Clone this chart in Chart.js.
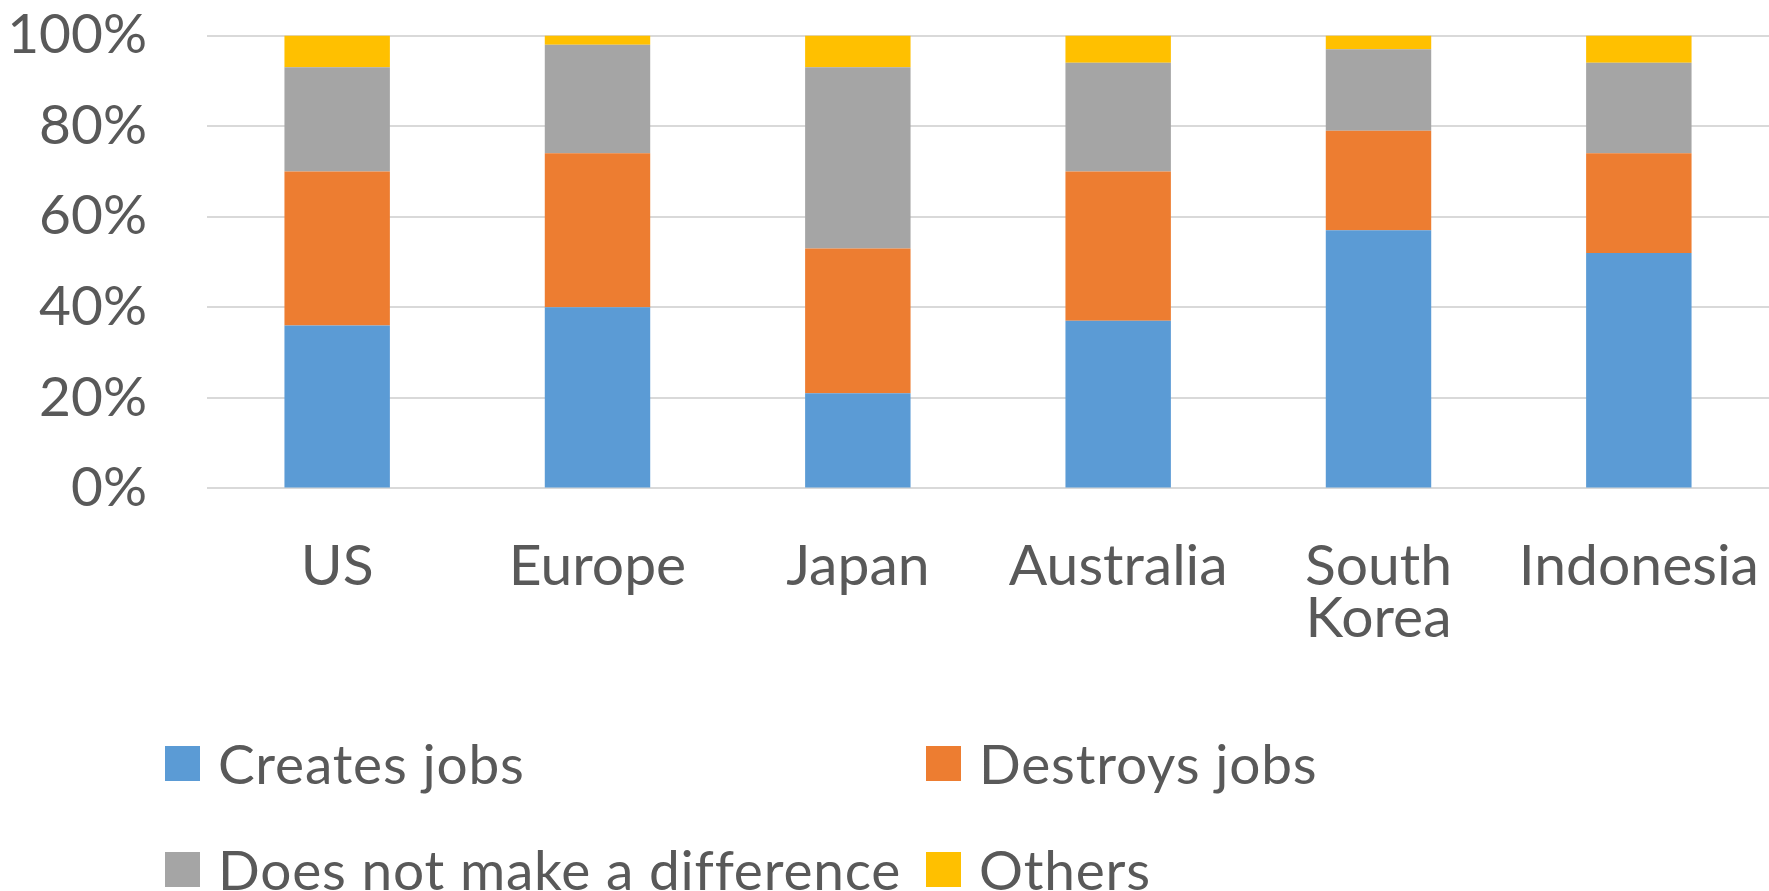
<!DOCTYPE html>
<html>
<head>
<meta charset="utf-8">
<script src="https://cdn.jsdelivr.net/npm/chart.js@4/dist/chart.umd.min.js"></script>
<style>
  html, body { margin: 0; padding: 0; background: #fff; overflow: hidden; }
  #wrap { position: relative; width: 1769px; height: 891px; overflow: hidden; }
  #grafico { position: absolute; left: 0; top: -50px; }
  #legenda {
    position: absolute; left: 0; top: 0; width: 1769px; height: 891px;
    font-family: Lato, "Noto Sans", sans-serif; font-size: 55px; letter-spacing: 0.8px; color: #595959;
  }
  .item { position: absolute; display: flex; align-items: center; white-space: nowrap; }
  .caixa { width: 35px; height: 35px; margin-right: 18px; }
</style>
</head>
<body>
<div id="wrap">
  <canvas id="grafico" width="1769" height="891"></canvas>
  <div id="legenda"></div>
</div>
<script>
// Categorias e séries (valores em %)
const paises = ["US", "Europe", "Japan", "Australia", ["South", "Korea"], "Indonesia"];
const criaEmpregos = [36, 40, 21, 37, 57, 52];
const destroiEmpregos = [34, 34, 32, 33, 22, 22];
const semDiferenca = [23, 24, 40, 24, 18, 20];
const outros = [7, 2, 7, 6, 3, 6];
const ticksY = [0, 20, 40, 60, 80, 100];

const series = [
  { label: "Creates jobs", data: criaEmpregos, cor: "#5B9BD5" },
  { label: "Destroys jobs", data: destroiEmpregos, cor: "#ED7D31" },
  { label: "Does not make a difference", data: semDiferenca, cor: "#A5A5A5" },
  { label: "Others", data: outros, cor: "#FFC000" }
];

const fonteX = { family: "Lato, 'Noto Sans', sans-serif", size: 57, lineHeight: 0.9 };
const fonteY = { family: "Lato, 'Noto Sans', sans-serif", size: 55, lineHeight: 0.93 };

const grafico = new Chart(document.getElementById("grafico").getContext("2d"), {
  type: "bar",
  data: {
    labels: paises,
    datasets: series.map(function (s) {
      return {
        label: s.label,
        data: s.data,
        backgroundColor: s.cor,
        borderWidth: 0,
        categoryPercentage: 1,
        barPercentage: 0.405
      };
    })
  },
  options: {
    responsive: false,
    animation: false,
    layout: { padding: { top: 8, right: 0, bottom: 144, left: 0 } },
    plugins: { legend: { display: false }, tooltip: { enabled: false } },
    scales: {
      x: {
        stacked: true,
        grid: { display: false, drawTicks: false },
        border: { display: false },
        afterFit: function (escala) { escala.paddingRight = 0; escala.paddingLeft = 0; },
        ticks: { color: "#595959", font: fonteX, padding: 53, maxRotation: 0 }
      },
      y: {
        stacked: true,
        min: 0,
        max: 100,
        afterBuildTicks: function (escala) {
          escala.ticks = ticksY.map(function (v) { return { value: v }; });
        },
        afterFit: function (escala) { escala.width = 207; },
        grid: { color: "#D9D9D9", lineWidth: 2, drawTicks: false },
        border: { display: false },
        ticks: {
          color: "#595959",
          font: fonteY,
          padding: 60,
          callback: function (v) { return v + "%"; }
        }
      }
    }
  }
});

// Legenda em HTML com duas colunas, como no original
const legenda = document.getElementById("legenda");
const posicoes = [[165, 763], [926, 763], [165, 869], [926, 869]];
series.forEach(function (s, i) {
  const item = document.createElement("div");
  item.className = "item";
  item.style.left = posicoes[i][0] + "px";
  item.style.top = (posicoes[i][1] - 35) + "px";
  item.style.height = "70px";
  const caixa = document.createElement("span");
  caixa.className = "caixa";
  caixa.style.background = s.cor;
  const texto = document.createElement("span");
  texto.textContent = s.label;
  item.appendChild(caixa);
  item.appendChild(texto);
  legenda.appendChild(item);
});
</script>
</body>
</html>
